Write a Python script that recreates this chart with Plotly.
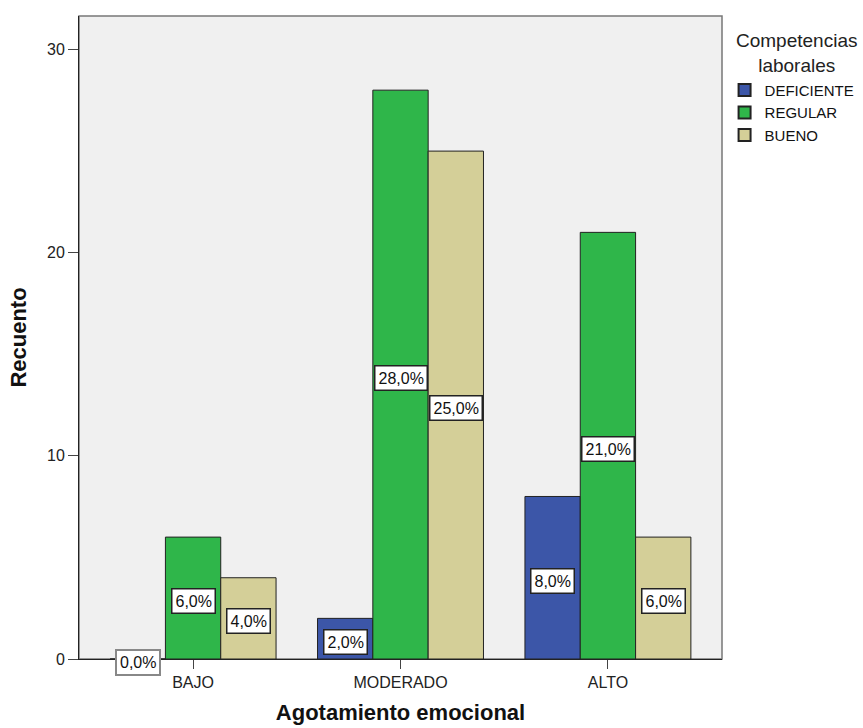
import plotly.graph_objects as go

categories = ["BAJO", "MODERADO", "ALTO"]
deficiente = [0, 2, 8]
regular = [6, 28, 21]
bueno = [4, 25, 6]
total = 100

series = [
    ("DEFICIENTE", deficiente, "#3c56a8"),
    ("REGULAR", regular, "#2fb64a"),
    ("BUENO", bueno, "#d4cf98"),
]

FONT = "Liberation Sans, Arial"

fig = go.Figure()
for name, vals, color in series:
    fig.add_trace(go.Bar(
        name=name, x=categories, y=vals, marker_color=color,
        marker_line_color="#222222", marker_line_width=1,
        offsetgroup=name, hoverinfo="skip",
    ))

# percentage labels boxed at the middle of each bar
offsets = [-1, 0, 1]
bar_w = 0.8 / 3
for (name, vals, color), off in zip(series, offsets):
    for i, v in enumerate(vals):
        txt = f"{100 * v / total:.1f}%".replace(".", ",")
        fig.add_annotation(
            x=i + off * bar_w, y=v / 2, xref="x", yref="y", yshift=-3,
            text=txt, showarrow=False,
            font=dict(family=FONT, size=16, color="#111111"),
            bgcolor="white",
            bordercolor="#888888" if v == 0 else "#222222",
            borderwidth=2 if v == 0 else 1.5, borderpad=3,
        )

# legend heading
fig.add_annotation(
    x=1.1166, y=0.981, xref="paper", yref="paper", xanchor="center", yanchor="top",
    text="Competencias<br>laborales", showarrow=False, align="center",
    font=dict(family=FONT, size=19, color="#222222"),
)

fig.update_layout(
    width=863, height=728,
    margin=dict(l=79, r=141, t=16, b=69, autoexpand=False),
    paper_bgcolor="white", plot_bgcolor="#f0f0f0",
    barmode="group", bargap=0.2, bargroupgap=0,
    font=dict(family=FONT, size=15, color="#222222"),
    legend=dict(
        x=1.004, y=0.91, xanchor="left", yanchor="top",
        font=dict(family=FONT, size=15, color="#111111"),
        itemsizing="constant", tracegroupgap=0, itemwidth=30,
        bgcolor="rgba(0,0,0,0)",
    ),
    showlegend=True,
)

fig.update_xaxes(
    type="category", range=[-0.55, 2.55],
    showline=True, linecolor="#222222", linewidth=1,
    ticks="outside", ticklen=9, tickcolor="#444444",
    showgrid=False, zeroline=False,
    tickfont=dict(family=FONT, size=16, color="#222222"),
    title=dict(text="<b>Agotamiento emocional</b>",
               font=dict(family=FONT, size=22, color="#111111"), standoff=14),
)
fig.update_yaxes(
    range=[0, 31.65], tickvals=[0, 10, 20, 30],
    showline=True, linecolor="#222222", linewidth=1,
    ticks="outside", ticklen=10, tickcolor="#444444",
    showgrid=False, zeroline=False,
    tickfont=dict(family=FONT, size=16, color="#222222"),
    title=dict(text="<b>Recuento</b>", font=dict(family=FONT, size=22, color="#111111"),
               standoff=14),
)

# plot frame
fig.add_shape(type="rect", xref="paper", yref="paper", x0=0, y0=0, x1=1, y1=1,
              line=dict(color="#777777", width=1.5), layer="below")

fig.write_html("out.html")
